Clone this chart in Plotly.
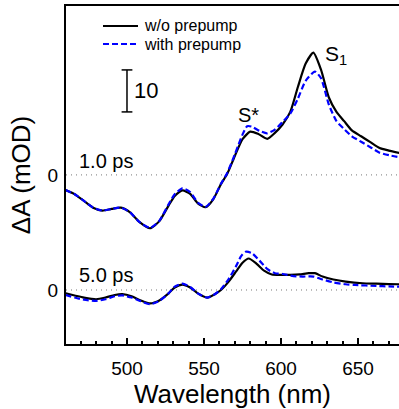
import plotly.graph_objects as go

# ---- data (mOD) ----
wl_1ps_black = [460, 466, 472, 478, 484, 490, 496, 502, 508, 515, 521, 527, 531, 536, 541, 546, 551, 556, 561, 565,
                570, 575, 580, 585, 591, 596, 601, 606, 611, 616, 621, 626, 631, 636, 641, 646, 652, 658, 664, 670, 677]
dA_1ps_black = [-3.6, -4.6, -6.2, -7.8, -8.5, -8.1, -7.8, -8.9, -11.2, -12.7, -11.0, -7.3, -5.0, -3.7, -4.5, -6.8, -7.7, -5.8, -2.2, 0.2,
                4.5, 8.5, 10.3, 9.8, 8.6, 10.0, 12.0, 15.0, 21.0, 26.5, 29.1, 25.0, 18.5, 15.0, 12.8, 10.6, 9.2, 7.8, 6.4, 5.8, 5.2]

wl_1ps_blue = [460, 466, 472, 478, 484, 490, 496, 502, 508, 515, 521, 527, 531, 536, 541, 546, 551, 556, 561, 565,
               570, 575, 578, 581, 586, 591, 596, 601, 606, 611, 616, 622, 626, 631, 636, 641, 646, 652, 658, 664, 670, 677]
dA_1ps_blue = [-3.6, -4.6, -6.2, -7.8, -8.5, -8.1, -7.8, -8.9, -11.2, -12.6, -10.9, -7.0, -4.6, -3.2, -4.1, -6.6, -7.6, -5.7, -2.1, 0.4,
               4.9, 9.6, 11.6, 11.5, 10.5, 9.9, 10.8, 12.6, 14.6, 18.2, 22.4, 24.6, 23.0, 16.8, 12.8, 10.9, 9.2, 7.9, 6.6, 5.3, 4.7, 4.2]

wl_5ps_black = [460, 466, 472, 480, 486, 492, 497, 503, 509, 515, 521, 527, 531, 536, 541, 546, 552, 557, 561, 566,
                571, 575, 579, 584, 589, 594, 600, 606, 612, 618, 622, 627, 634, 642, 653, 662, 670, 677]
dA_5ps_black = [-0.8, -1.3, -1.8, -2.2, -1.8, -1.2, -1.0, -1.5, -2.5, -3.2, -2.5, -0.8, 0.6, 1.3, 0.6, -0.8, -1.8, -1.0, 0.0, 2.0,
                4.5, 6.5, 7.5, 6.3, 4.6, 3.7, 3.6, 3.6, 3.7, 4.0, 4.0, 3.2, 2.5, 2.0, 1.6, 1.5, 1.4, 1.36]

wl_5ps_blue = [460, 466, 472, 480, 486, 492, 497, 503, 509, 515, 521, 527, 531, 536, 541, 546, 552, 557, 561, 566,
               571, 574, 577, 581, 586, 591, 596, 601, 608, 614, 621, 627, 634, 642, 648, 662, 670, 677]
dA_5ps_blue = [-1.2, -1.8, -2.3, -2.6, -2.2, -1.5, -1.3, -1.8, -2.7, -3.4, -2.6, -0.8, 0.8, 1.5, 0.7, -0.8, -1.8, -1.0, 0.2, 2.6,
               5.8, 8.0, 9.1, 8.8, 7.0, 5.0, 4.0, 3.8, 3.3, 3.2, 3.2, 2.5, 1.8, 1.36, 1.2, 0.95, 0.85, 0.8]

offset_1ps = 27.4   # vertical offset of the 1.0 ps spectra
offset_5ps = 0.0
xtick_vals = [500, 550, 600, 650]
scale_bar = 10      # mOD
legend_names = ["w/o prepump", "with prepump"]

FONT = "Arial, Liberation Sans, sans-serif"
BLUE = "#0000ff"
BLUE_DASH = "6px,3px"

fig = go.Figure()

def add(wl, dA, off, color, dash, name):
    fig.add_trace(go.Scatter(
        x=wl, y=[v + off for v in dA], mode="lines", name=name, showlegend=False,
        line=dict(color=color, width=2.2, dash=dash, shape="spline", smoothing=0.6)))

add(wl_1ps_black, dA_1ps_black, offset_1ps, "black", "solid", legend_names[0])
add(wl_1ps_blue, dA_1ps_blue, offset_1ps, BLUE, BLUE_DASH, legend_names[1])
add(wl_5ps_black, dA_5ps_black, offset_5ps, "black", "solid", legend_names[0])
add(wl_5ps_blue, dA_5ps_blue, offset_5ps, BLUE, BLUE_DASH, legend_names[1])

# zero lines
for off in (offset_1ps, offset_5ps):
    fig.add_hline(y=off, line=dict(color="#777777", width=1, dash="1px,4px"), layer="below")

# scale bar
sb_x = 500
sb_y0 = 42.4
fig.add_trace(go.Scatter(
    x=[sb_x, sb_x, None, sb_x - 3.5, sb_x + 3.5, None, sb_x - 3.5, sb_x + 3.5],
    y=[sb_y0, sb_y0 + scale_bar, None, sb_y0, sb_y0, None, sb_y0 + scale_bar, sb_y0 + scale_bar],
    mode="lines", line=dict(color="black", width=1.5), showlegend=False, hoverinfo="skip"))

# manual legend (plot-area fractions)
PW, PH, L, T = 333.0, 338.0, 66.0, 6.0
def px(xp): return (xp - L) / PW
def py(yp): return 1 - (yp - T) / PH
for i, (name, color, dash) in enumerate(zip(legend_names, ["black", BLUE], ["solid", BLUE_DASH])):
    yy = 26 + 18 * i
    fig.add_shape(type="line", xref="paper", yref="paper", x0=px(103), x1=px(138), y0=py(yy), y1=py(yy),
                  line=dict(color=color, width=2.2, dash=dash))
    fig.add_annotation(x=px(142), y=py(yy), xref="paper", yref="paper", text=name, showarrow=False,
                       xanchor="left", yanchor="middle", font=dict(size=16, family=FONT, color="black"))

annots = [
    dict(x=503.5, y=sb_y0 + scale_bar / 2, text="10", xanchor="left", yanchor="middle", font=dict(size=22)),
    dict(x=467.5, y=offset_1ps + 3.3, text="1.0 ps", xanchor="left", yanchor="middle", font=dict(size=20)),
    dict(x=467.5, y=offset_5ps + 3.6, text="5.0 ps", xanchor="left", yanchor="middle", font=dict(size=20)),
    dict(x=578.6, y=41.7, text="S*", xanchor="center", yanchor="middle", font=dict(size=20)),
    dict(x=627.0, y=56.0, text="S<sub>1</sub>", xanchor="left", yanchor="middle", font=dict(size=21)),
]
for a in annots:
    a.update(showarrow=False, xref="x", yref="y")
    a["font"].update(family=FONT, color="black")
    fig.add_annotation(**a)

fig.update_layout(
    width=399, height=409,
    margin=dict(l=66, r=0, t=6, b=65, autoexpand=False),
    paper_bgcolor="white", plot_bgcolor="white",
    font=dict(family=FONT, color="black"),
    showlegend=False,
)
fig.update_xaxes(
    range=[460.4, 676.6], tickvals=xtick_vals, ticks="inside", ticklen=6, tickwidth=1.5, tickcolor="black",
    minor=dict(dtick=10, tick0=500, ticks="inside", ticklen=3.5, tickwidth=1.5, tickcolor="black"),
    showline=True, linewidth=2, linecolor="black", mirror=True, showgrid=False, zeroline=False,
    automargin=False, ticklabelstandoff=6,
    tickfont=dict(size=19), title=dict(text="Wavelength (nm)", font=dict(size=26), standoff=12),
)
fig.update_yaxes(
    range=[-12.86, 67.62], tickvals=[offset_5ps, offset_1ps], ticktext=["0", "0"], ticks="",
    showline=True, linewidth=2, linecolor="black", showgrid=False, zeroline=False,
    automargin=False, ticklabelstandoff=2,
    tickfont=dict(size=19), title=dict(text="ΔA (mOD)", font=dict(size=26), standoff=10),
)

fig.write_html("out.html", config={"displayModeBar": False},
               post_script="document.body.style.margin='0';document.body.style.overflow='hidden';")
